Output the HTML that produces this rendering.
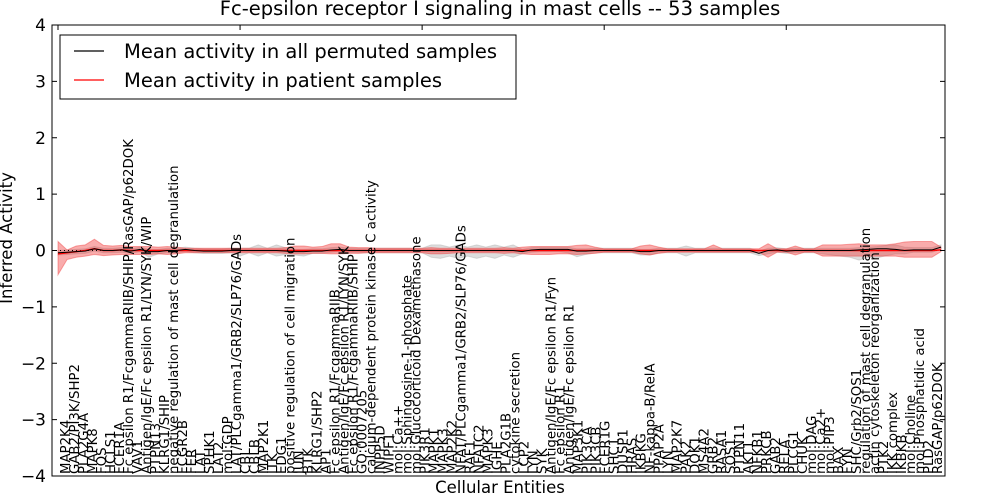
<!DOCTYPE html>
<html><head><meta charset="utf-8"><style>
body{margin:0;background:#fff;}
svg{display:block;font-family:"DejaVu Sans","Liberation Sans",sans-serif;}
</style></head><body>
<svg id="chart" width="1000" height="500" xmlns="http://www.w3.org/2000/svg">
<text x="500" y="15" font-size="19.5" text-anchor="middle">Fc-epsilon receptor I signaling in mast cells -- 53 samples</text>
<text x="500" y="493" font-size="16.5" text-anchor="middle">Cellular Entities</text>
<text transform="translate(12,238) rotate(-90)" font-size="16.5" text-anchor="middle">Inferred Activity</text>
<g id="plot"></g>
</svg>
<script>
const categories=["MAP2K4","GAB2/PI3K/SHP2","PLA2G4A","MAPK8","FOS","HCLS1","FCER1A","Fc epsilon R1/FcgammaRIIB/SHIP/RasGAP/p62DOK","VAV1","Antigen/IgE/Fc epsilon R1/LYN/SYK/WIP","PTPN13","KLRG1/SHIP","negative regulation of mast cell degranulation","FCGR2B","FER","LAT","SPHK1","LAT2","mol:GDP","LAT/PLCgamma1/GRB2/SLP76/GADs","CBL","CBLB","MAP2K1","ITK","EDG1","positive regulation of cell migration","JUN","BTK","KLRG1/SHP2","AP1","Fc epsilon R1/FcgammaRIIB","Antigen/IgE/Fc epsilon R1/LYN/SYK","Fc epsilon R1/FcgammaRIIB/SHIP","GO:0007205","calcium-dependent protein kinase C activity","INPP5D","WIPF1","mol:Ca++","mol:Sphingosine-1-phosphate","mol:Glucocorticoid Dexamethasone","PIK3R1","MAPK1","MAPK3","MAP2K2","NFAT/PLCgamma1/GRB2/SLP76/GADs","RAF1","NFATC2","MAPK3","IGHE","PLA2G1B","cytokine secretion","LCP2","LYN","SYK","Antigen/IgE/Fc epsilon R1/Fyn","Fc epsilon R1","Antigen/IgE/Fc epsilon R1","MAP3K1","PIK3CA","PIK3CB","FCER1G","SHC1","DUSP1","HRAS","IKBKG","NF-kappa-B/RelA","PPAP2A","LYN","MAP2K7","PAK2","DOK1","MS4A2","GRB2","RASA1","SOS1","PTPN11","AKT1","NFKB1","PRKCB","GAB2","RELA","PLCG1","CHUK","mol:DAG","mol:Ca2+","mol:PIP3","BAX","FYN","SHC/Grb2/SOS1","regulation of mast cell degranulation","actin cytoskeleton reorganization","PTK2","IKK complex","IKBKB","mol:Choline","mol:Phosphatidic acid","PLD2","RasGAP/p62DOK"];
const patientMean=[-0.06,-0.04,-0.02,0,0.03,0,0,0.01,0,0,0,0,0,0,0,0,0,0,0,0,0,0,0,0,0,0,0,0,0,0,0,0,0,0,0,0,0,0,0,0,0,0,0,0,0,0,0,0,0,0,0,0,0,0,0,0,0,0,0,0,0,0,0,0,0,0,0,0,0,0,0,0,0,0,0,0,0,0,0,0,0,0,0,0,0,0,0,0,0,0,0,0,0,0,0,0,0,0.01];
const permMean=[-0.04,-0.03,-0.02,-0.01,0.03,0,0,0.01,-0.01,0.02,-0.02,-0.02,0,0,0.02,0,-0.01,-0.01,-0.01,0,0,0,0,0,0,-0.01,-0.02,-0.02,-0.01,-0.01,0.01,0.02,0,0,0,0,0,0,0,0,0,0,0,0,0,0,0,0,0,0,0,-0.02,0.01,0.02,0.02,0.02,0.02,-0.01,-0.01,0,0,0,0,0,-0.02,-0.02,0,0,0,0,0,0,0,0,0,0,0,-0.05,0,0.01,-0.01,0,0,0,0,0,0,0,0.01,0.02,0.03,0.03,0.02,0,0.01,0.01,0.01,0.06];
const redHi=[0.22,0.05,0.1,0.1,0.17,0.09,0.08,0.08,0.07,0.07,0.07,0.06,0.07,0.06,0.04,0.04,0.04,0.04,0.04,0.04,0.04,0.04,0.04,0.04,0.04,0.05,0.08,0.08,0.06,0.07,0.12,0.12,0.06,0.05,0.05,0.04,0.04,0.04,0.04,0.04,0.04,0.05,0.04,0.04,0.04,0.04,0.04,0.04,0.04,0.05,0.04,0.06,0.07,0.07,0.07,0.07,0.07,0.09,0.1,0.06,0.03,0.03,0.03,0.03,0.08,0.1,0.06,0.03,0.03,0.03,0.03,0.03,0.1,0.03,0.03,0.03,0.03,0.03,0.12,0.03,0.03,0.08,0.03,0.03,0.1,0.1,0.1,0.11,0.12,0.1,0.1,0.1,0.12,0.15,0.16,0.16,0.16,0.05];
const redLo=[-0.37,-0.12,-0.1,-0.1,-0.1,-0.09,-0.08,-0.08,-0.07,-0.07,-0.07,-0.06,-0.07,-0.06,-0.04,-0.04,-0.04,-0.04,-0.04,-0.04,-0.04,-0.04,-0.04,-0.04,-0.04,-0.05,-0.06,-0.06,-0.05,-0.05,-0.06,-0.06,-0.05,-0.05,-0.04,-0.04,-0.04,-0.04,-0.04,-0.04,-0.04,-0.06,-0.06,-0.05,-0.04,-0.04,-0.04,-0.04,-0.04,-0.05,-0.04,-0.06,-0.07,-0.07,-0.07,-0.06,-0.06,-0.07,-0.06,-0.05,-0.03,-0.03,-0.03,-0.03,-0.06,-0.08,-0.05,-0.03,-0.03,-0.03,-0.03,-0.03,-0.03,-0.03,-0.03,-0.03,-0.03,-0.03,-0.12,-0.03,-0.03,-0.08,-0.03,-0.03,-0.1,-0.1,-0.1,-0.1,-0.1,-0.1,-0.1,-0.1,-0.1,-0.12,-0.12,-0.12,-0.12,-0.03];
const grayHi=[0.04,0.04,0.04,0.04,0.04,0.04,0.04,0.04,0.04,0.04,0.04,0.04,0.04,0.04,0.04,0.04,0.04,0.04,0.04,0.04,0.04,0.04,0.1,0.04,0.1,0.06,0.04,0.04,0.04,0.04,0.04,0.04,0.04,0.04,0.04,0.04,0.04,0.04,0.04,0.04,0.04,0.1,0.1,0.06,0.1,0.06,0.1,0.06,0.1,0.06,0.1,0.04,0.04,0.04,0.04,0.04,0.04,0.04,0.04,0.04,0.04,0.04,0.04,0.04,0.04,0.04,0.04,0.04,0.04,0.08,0.04,0.04,0.04,0.04,0.04,0.04,0.04,0.04,0.04,0.04,0.04,0.04,0.04,0.04,0.04,0.04,0.04,0.04,0.04,0.04,0.04,0.06,0.08,0.06,0.04,0.04,0.04,0.04];
const grayLo=[-0.04,-0.04,-0.04,-0.04,-0.04,-0.04,-0.04,-0.04,-0.04,-0.04,-0.1,-0.04,-0.04,-0.04,-0.04,-0.04,-0.04,-0.04,-0.04,-0.04,-0.1,-0.04,-0.1,-0.04,-0.1,-0.06,-0.06,-0.08,-0.04,-0.04,-0.04,-0.04,-0.04,-0.04,-0.04,-0.04,-0.04,-0.04,-0.04,-0.04,-0.04,-0.12,-0.14,-0.1,-0.14,-0.1,-0.14,-0.1,-0.14,-0.08,-0.12,-0.04,-0.04,-0.04,-0.04,-0.04,-0.06,-0.1,-0.06,-0.04,-0.04,-0.04,-0.04,-0.04,-0.06,-0.06,-0.04,-0.04,-0.04,-0.1,-0.04,-0.04,-0.04,-0.04,-0.04,-0.04,-0.04,-0.04,-0.06,-0.04,-0.04,-0.04,-0.04,-0.04,-0.06,-0.08,-0.1,-0.12,-0.18,-0.14,-0.16,-0.12,-0.08,-0.06,-0.04,-0.04,-0.04,-0.04];
const yTicks=[-4,-3,-2,-1,0,1,2,3,4];

const L=52,R=945,T=25,B=476,NS="http://www.w3.org/2000/svg";
const n=categories.length;
const X0=58,X1=941;
const xs=i=>X0+i*(X1-X0)/(n-1);
const ys=v=>T+(4-v)*(B-T)/8;
const g=document.getElementById('plot');
function mk(tag,at){const e=document.createElementNS(NS,tag);for(const k in at)e.setAttribute(k,at[k]);g.appendChild(e);return e;}
function band(hi,lo,fill,op,name){
  let d='M'+hi.map((v,i)=>xs(i)+','+ys(v)).join('L')+'L'+lo.map((v,i)=>xs(i)+','+ys(v)).reverse().join('L')+'Z';
  const p=mk('path',{d:d,fill:fill,'fill-opacity':op,stroke:fill,'stroke-opacity':op});
  
  
}
band(grayHi.map((v,i)=>v+permMean[i]),grayLo.map((v,i)=>v+permMean[i]),'#aaaaaa',0.4,'permuted-band');
band(redHi.map((v,i)=>v+patientMean[i]),redLo.map((v,i)=>v+patientMean[i]),'#f03030',0.4,'patient-band');
const zl=mk('line',{x1:L,x2:R,y1:ys(0),y2:ys(0),stroke:'#000','stroke-dasharray':'1,3','stroke-width':1});


const pl=mk('polyline',{points:patientMean.map((v,i)=>xs(i)+','+ys(v)).join(' '),fill:'none',stroke:'#ff0000','stroke-width':1.5});


const bl=mk('polyline',{points:permMean.map((v,i)=>xs(i)+','+ys(v)).join(' '),fill:'none',stroke:'#000','stroke-width':1});


yTicks.forEach(t=>{
  const y=ys(t);
  const a=mk('line',{x1:L,x2:L+5,y1:y,y2:y,stroke:'#000'});
  
  
  const b=mk('line',{x1:R,x2:R-5,y1:y,y2:y,stroke:'#000'});
  
  
  const tx=mk('text',{x:L-6,y:y+6,'font-size':17,'text-anchor':'end'});
  tx.textContent=(t<0?'\u2212':'')+Math.abs(t);
  
  
});
for(let i=0;i<n;i+=20){
  const a=mk('line',{x1:xs(i),x2:xs(i),y1:T,y2:T+5,stroke:'#000'});
  
  
}
categories.forEach((c,i)=>{
  const x=70+i*(942-70)/(n-1);
  const tx=mk('text',{transform:'translate('+x+','+(B-2)+') rotate(-90)','font-size':13.3});
  tx.textContent=c;
  
  
});
const fr=mk('rect',{x:L,y:T,width:R-L,height:B-T,fill:'none',stroke:'#000','stroke-width':1});


const lg=mk('rect',{x:60,y:35,width:456,height:64,fill:'#fff',stroke:'#000'});


[['#000','Mean activity in all permuted samples',51,'legend-entry-permuted'],['#ff0000','Mean activity in patient samples',80,'legend-entry-patient']].forEach(e=>{
  const l=mk('line',{x1:74,x2:104,y1:e[2],y2:e[2],stroke:e[0],'stroke-width':1.2});
  
  
  const t=mk('text',{x:124,y:e[2]+7,'font-size':19.5});
  t.textContent=e[1];
  
  
});
</script>
</body></html>
